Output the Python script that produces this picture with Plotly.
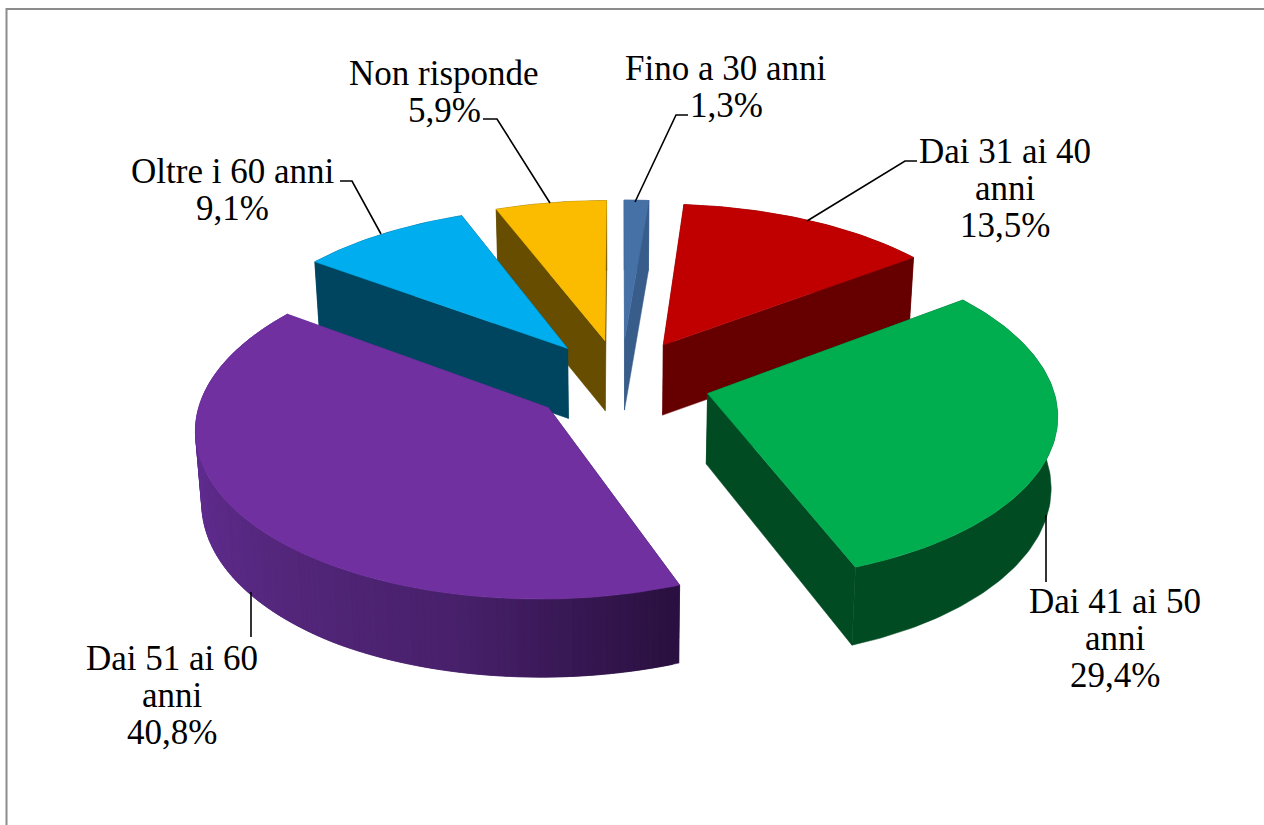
import math
import plotly.graph_objects as go

# ---- data ----
categories = ["Fino a 30 anni", "Dai 31 ai 40 anni", "Dai 41 ai 50 anni",
              "Dai 51 ai 60 anni", "Oltre i 60 anni", "Non risponde"]
values = [1.3, 13.5, 29.4, 40.8, 9.1, 5.9]
label_lines = [["Fino a 30 anni"], ["Dai 31 ai 40", "anni"], ["Dai 41 ai 50", "anni"],
               ["Dai 51 ai 60", "anni"], ["Oltre i 60 anni"], ["Non risponde"]]

# ---- styles ----
top_colors = ["#4571A7", "#C00000", "#00AE50", "#7030A0", "#00AEEF", "#FBBC00"]
side_colors = ["#395D8A", "#660000", "#004B22", None, "#00455F", "#664D00"]
purple_stops = [(159, "#2A1040"), (190, "#47206A"), (225, "#55277D"), (270, "#66309A"), (306, "#6A2D99")]
draw_order = [0, 1, 5, 4, 2, 3]

# ---- view (projection of the tilted exploded pie) ----
W, H = 1264, 825
CX, CY, A, B, K = 621, 381.5, 344, 164, 0.11
EXPLODE = 0.26
THICK_BACK, THICK_FRONT = 70, 78
BOTTOM_X = 0.985
label_pos = [(726, 68), (1005, 151), (1115, 601), (172, 658), (232, 171), (444, 73)]
line_gap = 37
leaders = [
    [(688, 115), (676, 115), (635, 202)],
    [(917, 161), (905, 161), (807, 221)],
    [(1046, 515), (1046, 582)],
    [(251, 592), (251, 637)],
    [(340, 181), (352, 181), (381, 234)],
    [(483, 119), (497, 119), (550, 203)],
]
FONT = "Liberation Serif"
FSIZE = 35


def project(U, V, bottom=False):
    d = 1 + K * V
    x = CX + A * U / d
    y = CY - B * V / d
    if bottom:
        x = CX + (x - CX) * BOTTOM_X
        y += THICK_BACK if V >= 0 else THICK_BACK + (THICK_FRONT - THICK_BACK) * min(1, -V)
    return x, y


def lerp_color(c0, c1, t):
    a = [int(c0[i:i + 2], 16) for i in (1, 3, 5)]
    b = [int(c1[i:i + 2], 16) for i in (1, 3, 5)]
    return "#%02X%02X%02X" % tuple(round(p + (q - p) * t) for p, q in zip(a, b))


def purple_at(deg):
    for (d0, c0), (d1, c1) in zip(purple_stops, purple_stops[1:]):
        if deg <= d1:
            return lerp_color(c0, c1, max(0, (deg - d0) / (d1 - d0)))
    return purple_stops[-1][1]


def poly(fig, pts, color):
    xs = [p[0] for p in pts] + [pts[0][0]]
    ys = [p[1] for p in pts] + [pts[0][1]]
    fig.add_trace(go.Scatter(x=xs, y=ys, mode="lines", fill="toself", fillcolor=color,
                             line=dict(color=color, width=0.5), hoverinfo="skip", showlegend=False))


fig = go.Figure()
total = sum(values)
starts = [sum(values[:i]) / total * 360 for i in range(len(values))]

for i in draw_order:
    a0 = starts[i]
    a1 = a0 + values[i] / total * 360
    mid = math.radians((a0 + a1) / 2)
    U0, V0 = EXPLODE * math.sin(mid), EXPLODE * math.cos(mid)
    n = max(6, int(a1 - a0))
    angs = [a0 + (a1 - a0) * j / n for j in range(n + 1)]
    rim = [(U0 + math.sin(math.radians(t)), V0 + math.cos(math.radians(t))) for t in angs]
    side = side_colors[i]
    e0 = purple_at(a0) if side is None else side
    e1 = purple_at(a1) if side is None else side
    # radial faces
    poly(fig, [project(U0, V0), project(*rim[0]), project(*rim[0], True), project(U0, V0, True)], e0)
    poly(fig, [project(U0, V0), project(*rim[-1]), project(*rim[-1], True), project(U0, V0, True)], e1)
    # outer wall
    if side is None:
        # painted from the far end so each band overlaps the previous one, hiding seams
        for j in range(n - 1, -1, -1):
            k = min(n, j + 2)
            band = rim[j:k + 1]
            poly(fig, [project(*p) for p in band] + [project(*p, True) for p in reversed(band)],
                 purple_at(angs[j]))
    else:
        poly(fig, [project(*p) for p in rim] + [project(*p, True) for p in reversed(rim)], side)
    # top
    poly(fig, [project(U0, V0)] + [project(*p) for p in rim], top_colors[i])

for pts in leaders:
    fig.add_trace(go.Scatter(x=[p[0] for p in pts], y=[p[1] for p in pts], mode="lines",
                             line=dict(color="#000000", width=1.6), hoverinfo="skip", showlegend=False))

for i, lines in enumerate(label_lines):
    pct = f"{values[i]:.1f}".replace(".", ",") + "%"
    x, y = label_pos[i]
    for j, text in enumerate(lines + [pct]):
        fig.add_annotation(x=x, y=y + j * line_gap, text=text, showarrow=False, xanchor="center", yanchor="middle",
                           font=dict(family=FONT, size=FSIZE, color="#000000"))

fig.add_shape(type="rect", x0=6.5, y0=9, x1=W + 40, y1=H + 40, line=dict(color="#8C8C8C", width=2), layer="above")

fig.update_layout(width=W, height=H, margin=dict(l=0, r=0, t=0, b=0), paper_bgcolor="#FFFFFF",
                  plot_bgcolor="#FFFFFF", showlegend=False,
                  xaxis=dict(range=[0, W], visible=False, fixedrange=True),
                  yaxis=dict(range=[H, 0], visible=False, fixedrange=True))

fig.write_html("out.html", config={"displayModeBar": False},
               post_script="document.body.style.margin='0';document.body.style.overflow='hidden';")
